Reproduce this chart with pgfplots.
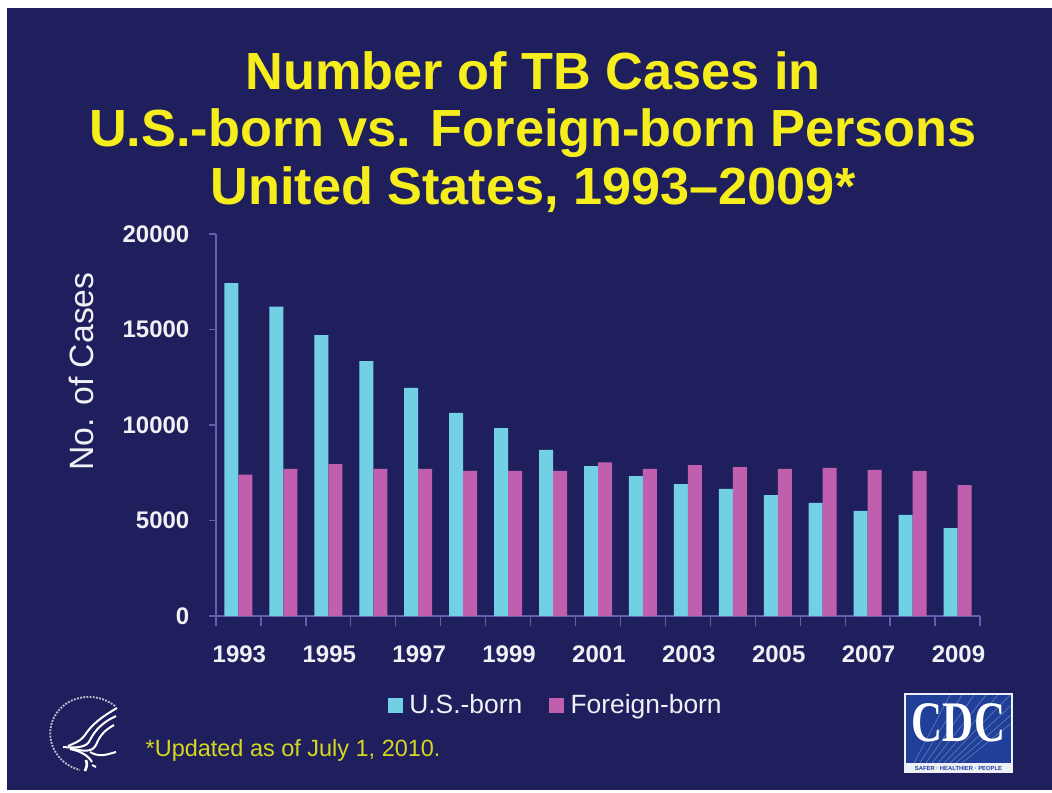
\documentclass[border=0pt]{standalone}
\usepackage{pgfplots}
\pgfplotsset{compat=1.18}
\usepackage{fontspec}
\setmainfont{Liberation Sans}
\newfontfamily\serifcdc{Liberation Serif}
\definecolor{bgblue}{HTML}{201F5E}
\definecolor{axiscol}{HTML}{5F5FAE}
\definecolor{usborn}{HTML}{72D0E4}
\definecolor{fborn}{HTML}{C05FAE}
\definecolor{ttl}{HTML}{F6EE1C}
\definecolor{foot}{HTML}{D6D820}
\definecolor{tk}{HTML}{F0F0F5}
\definecolor{cdcblue}{HTML}{1F3F99}
\begin{document}
\begin{tikzpicture}[x=0.75pt,y=-0.75pt]
\useasboundingbox (0,0) rectangle (1052,792);
\fill[white] (0,0) rectangle (1052,792);
\fill[bgblue] (7,8) rectangle (1052,790);
\node[ttl,font=\fontsize{39.2}{43}\selectfont\bfseries,align=center] at (533,132)
 {Number of TB Cases in\\U.S.-born vs. Foreign-born Persons\\United States, 1993–2009*};
\begin{axis}[
 at={(162pt,-462pt)},anchor=south west,
 scale only axis,width=573pt,height=286.5pt,
 ybar=0pt,bar width=10.5pt,
 xmin=1992.5,xmax=2009.5,ymin=0,ymax=20000,
 axis x line*=bottom,axis y line*=left,
 axis line style={axiscol,line width=1.2pt,-},
 xtick={1993,1995,...,2009},
 minor xtick={1992.5,1993.5,...,2009.5},
 ytick={0,5000,...,20000},
 scaled y ticks=false,
 major x tick style={draw=none},
 minor x tick style={axiscol,line width=1pt},
 minor tick length=7.5pt,
 y tick style={axiscol,line width=1pt},
 tick align=outside,
 major tick length=5.5pt,
 xticklabel style={/pgf/number format/1000 sep={},yshift=-13pt,xshift=0.7pt},
 yticklabel style={/pgf/number format/1000 sep={},/pgf/number format/fixed,xshift=-11pt},
 /pgf/number format/assume math mode=true,
 ticklabel style={tk,font=\fontsize{18}{21}\selectfont\bfseries},
 ylabel={No. of Cases},
 ylabel style={tk,font=\fontsize{25.3}{28}\selectfont,at={(axis description cs:0,0.64)},anchor=south,yshift=88pt},
 legend style={draw=none,fill=none,at={(0.445,-0.233)},anchor=center,legend columns=2,
   font=\fontsize{19.8}{23}\selectfont,text=tk,/tikz/every even column/.append style={column sep=18pt}},
 legend image code/.code={\fill[#1] (0cm,-0.2cm) rectangle (0.395cm,0.195cm);\path (0.5cm,0cm);},
]
\addplot[fill=usborn,draw=none] coordinates {
(1993,17430)(1994,16200)(1995,14700)(1996,13350)(1997,11940)(1998,10630)(1999,9840)(2000,8700)(2001,7850)
(2002,7330)(2003,6900)(2004,6650)(2005,6330)(2006,5920)(2007,5500)(2008,5290)(2009,4600)};
\addplot[fill=fborn,draw=none] coordinates {
(1993,7400)(1994,7700)(1995,7950)(1996,7700)(1997,7700)(1998,7600)(1999,7600)(2000,7600)(2001,8050)
(2002,7700)(2003,7900)(2004,7800)(2005,7700)(2006,7750)(2007,7650)(2008,7600)(2009,6850)};
\legend{U.S.-born,Foreign-born}
\end{axis}
\node[foot,anchor=west,font=\fontsize{17.6}{20}\selectfont] at (141,750) {*Updated as of July 1, 2010.};
% HHS logo
\draw[white!70!bgblue,line width=1.4pt,densely dotted] (115,706) .. controls (95,690) and (62,695) .. (52,722) .. controls (45,745) and (60,765) .. (80,770);
\draw[white,line width=1.5pt] (117,708) .. controls (103,716) and (92,724) .. (85,735) .. controls (80,742) and (72,744) .. (68,746);
\draw[white,line width=1.5pt] (116,716) .. controls (103,722) and (95,730) .. (90,740) .. controls (87,748) and (75,748) .. (63,747);
\draw[white,line width=1.5pt] (114,725) .. controls (105,730) and (100,735) .. (96,745) .. controls (92,752) and (85,752) .. (70,748);
\draw[white,line width=1.5pt] (70,749) .. controls (80,751) and (88,755) .. (92,762);
\draw[white,line width=1.5pt] (90,752) .. controls (100,758) and (108,754) .. (116,752);
\draw[white,line width=2pt] (86,760) .. controls (88,765) and (86,768) .. (85,771);
\draw[white,line width=1.4pt] (92,765) -- (96,767);
% CDC logo
\fill[white!92!cdcblue] (904,693) rectangle (1013,773);
\fill[cdcblue] (906,695) rectangle (1011,763);
\begin{scope}
\clip (906,695) rectangle (1011,763);
\foreach \a in {0,12,...,96}{\draw[white!35!cdcblue,line width=0.4pt] (914+\a*0.5,763) -- (950+\a,695);}
\end{scope}
\node[white,font=\fontsize{43}{46}\selectfont\serifcdc\bfseries,xscale=0.75] at (958.5,723) {CDC};
\node[cdcblue,font=\fontsize{4.4}{5}\selectfont\bfseries] at (958.5,768) {SAFER · HEALTHIER · PEOPLE};
\end{tikzpicture}
\end{document}
